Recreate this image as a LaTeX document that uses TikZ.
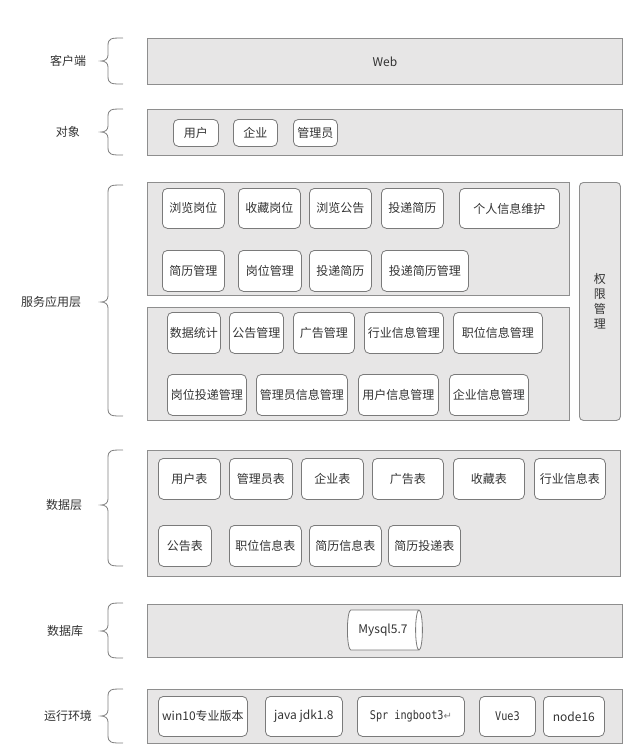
\documentclass[tikz,border=0pt]{standalone}
\usepackage{fontspec}
\setmainfont{Noto Sans CJK SC}
\newfontfamily\codefont[FakeStretch=0.85]{DejaVu Sans Mono}
\newfontfamily\symfont{DejaVu Sans}
\usetikzlibrary{shapes.geometric}

\definecolor{layerfill}{HTML}{E7E6E6}
\definecolor{layerline}{HTML}{8E8E8E}
\definecolor{itemline}{HTML}{7A7A7A}
\definecolor{txt}{HTML}{333333}
\definecolor{bracecol}{HTML}{808080}

\tikzset{
  layer/.style={draw=layerline, fill=layerfill, line width=0.9pt, inner sep=0pt,
    anchor=north west, text=txt, font=\fontsize{12}{14}\selectfont},
  item/.style={draw=itemline, fill=white, rounded corners=5pt, line width=0.8pt,
    inner sep=0pt, anchor=north west, text=txt, font=\fontsize{12}{14}\selectfont},
  lbl/.style={text=txt, inner sep=0pt, font=\fontsize{12}{14}\selectfont},
  brace/.style={draw=bracecol, line width=0.8pt}
}

% box from corner (x1,y1) to (x2,y2): style, x1, y1, x2, y2, name, text
\newcommand\blk[7]{\node[#1, minimum width={(#4-#2)*1pt}, minimum height={(#5-#3)*1pt}] (#6) at (#2,#3) {#7};}
% curly brace on the left of a layer: top, tip, bottom
\newcommand\layerbrace[3]{%
  \draw[brace] (123,#1) .. controls (111,#1) and (108,#1) .. (108,#1+8)
    -- (108,#2-6) .. controls (108,#2-2) and (105,#2) .. (101,#2)
    .. controls (105,#2) and (108,#2+2) .. (108,#2+6)
    -- (108,#3-8) .. controls (108,#3) and (111,#3) .. (123,#3);}

\begin{document}
\begin{tikzpicture}[x=1pt, y=-1pt]
\useasboundingbox (0,0) rectangle (631,748);

% ---- client ----
\node[lbl] (lclient) at (68,61) {客户端};
\layerbrace{38}{61}{84}
\blk{layer}{147}{38}{622}{84}{client}{Web}

% ---- roles ----
\node[lbl] (lrole) at (68,132) {对象};
\layerbrace{109}{132}{155}
\blk{layer}{147}{109}{622}{155}{roles}{}
\blk{item}{173}{119}{218}{146}{r1}{用户}
\blk{item}{233}{119}{277}{146}{r2}{企业}
\blk{item}{293}{119}{337}{146}{r3}{管理员}

% ---- service layer ----
\node[lbl] (lservice) at (51,302) {服务应用层};
\layerbrace{185}{302}{416}
\blk{layer}{147}{182}{569}{295}{front}{}
\blk{layer}{147}{307}{569}{420}{back}{}
\blk{layer,rounded corners=4pt}{579}{182}{620}{420}{auth}{}
\node[lbl, align=center, font=\fontsize{12}{15}\selectfont] (authtxt) at (auth.center) {权\\限\\管\\理};

\blk{item}{162}{188}{224}{228}{f1}{浏览岗位}
\blk{item}{238}{188}{300}{228}{f2}{收藏岗位}
\blk{item}{309}{188}{371}{228}{f3}{浏览公告}
\blk{item}{381}{188}{443}{228}{f4}{投递简历}
\blk{item}{459}{188}{559}{228}{f5}{个人信息维护}
\blk{item}{162}{250}{224}{291}{f6}{简历管理}
\blk{item}{238}{250}{301}{291}{f7}{岗位管理}
\blk{item}{309}{250}{371}{291}{f8}{投递简历}
\blk{item}{381}{250}{468}{291}{f9}{投递简历管理}

\blk{item}{167}{312}{220}{353}{b1}{数据统计}
\blk{item}{229}{312}{283}{353}{b2}{公告管理}
\blk{item}{293}{312}{354}{353}{b3}{广告管理}
\blk{item}{364}{312}{443}{353}{b4}{行业信息管理}
\blk{item}{453}{312}{542}{353}{b5}{职位信息管理}
\blk{item}{167}{374}{246}{415}{b6}{岗位投递管理}
\blk{item}{256}{374}{347}{415}{b7}{管理员信息管理}
\blk{item}{358}{374}{438}{415}{b8}{用户信息管理}
\blk{item}{449}{374}{528}{415}{b9}{企业信息管理}

% ---- data layer ----
\node[lbl] (ldata) at (64,505) {数据层};
\layerbrace{450}{505}{566}
\blk{layer}{147}{450}{620}{576}{data}{}
\blk{item}{158}{458}{220}{499}{t1}{用户表}
\blk{item}{229}{458}{292}{499}{t2}{管理员表}
\blk{item}{301}{458}{363}{499}{t3}{企业表}
\blk{item}{372}{458}{443}{499}{t4}{广告表}
\blk{item}{453}{458}{524}{499}{t5}{收藏表}
\blk{item}{534}{458}{605}{499}{t6}{行业信息表}
\blk{item}{158}{525}{211}{566}{t7}{公告表}
\blk{item}{229}{525}{301}{566}{t8}{职位信息表}
\blk{item}{309}{525}{381}{566}{t9}{简历信息表}
\blk{item}{388}{525}{460}{566}{t10}{简历投递表}

% ---- database ----
\node[lbl] (ldb) at (65,631) {数据库};
\layerbrace{603}{631}{658}
\blk{layer}{147}{604}{622}{657}{db}{}
\node[cylinder, draw=itemline, fill=white, line width=0.8pt, aspect=0.55,
  minimum width=40pt, minimum height=75pt, inner sep=0pt, text=txt,
  font=\fontsize{12}{14}\selectfont] (mysql) at (383,630) {Mysql5.7};

% ---- runtime environment ----
\node[lbl] (lenv) at (68,716) {运行环境};
\layerbrace{689}{716}{743}
\blk{layer}{147}{689}{622}{743}{env}{}
\blk{item}{158}{696}{247}{736}{e1}{win10专业版本}
\blk{item}{265}{696}{342}{736}{e2}{java jdk1.8}
\blk{item}{357}{696}{464}{736}{e3}{{\codefont\fontsize{12}{14}\selectfont Spr ingboot3}{\symfont\fontsize{10}{12}\selectfont\color{gray}↵}}
\blk{item}{479}{696}{535}{736}{e4}{{\codefont\fontsize{12}{14}\selectfont Vue3}}
\blk{item}{543}{696}{604}{736}{e5}{node16}
\end{tikzpicture}
\end{document}
